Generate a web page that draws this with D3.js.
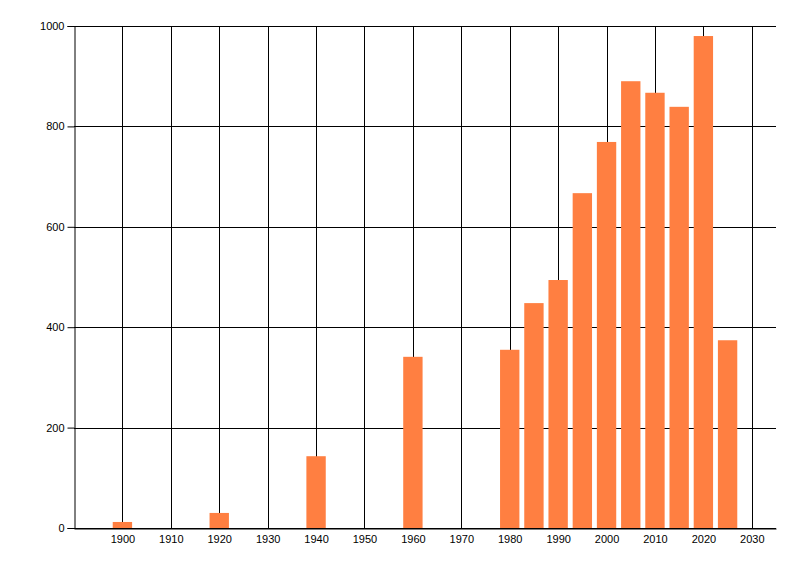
<!DOCTYPE html>
<html>
<head>
<meta charset="utf-8">
<script src="https://cdn.jsdelivr.net/npm/d3@7"></script>
<style>
  body { margin: 0; background: #fff; }
  text { font-family: "Liberation Sans", Arial, sans-serif; font-size: 11px; fill: #000; }
</style>
</head>
<body>
<div id="chart"></div>
<script>
var svgWidth = 800;
var svgHeight = 576;

var margin = { top: 26, right: 24, bottom: 48, left: 74 };

var chartWidth = svgWidth - margin.left - margin.right;
var chartHeight = svgHeight - margin.top - margin.bottom;

// data
var years = [1900, 1920, 1940, 1960, 1980, 1985, 1990, 1995, 2000, 2005, 2010, 2015, 2020, 2025];
var counts = [12, 30, 143, 341, 355, 448, 494, 667, 769, 890, 867, 839, 980, 374];
var xTicks = [1900, 1910, 1920, 1930, 1940, 1950, 1960, 1970, 1980, 1990, 2000, 2010, 2020, 2030];
var yTicks = [0, 200, 400, 600, 800, 1000];

var svg = d3.select("#chart")
  .append("svg")
  .attr("width", svgWidth)
  .attr("height", svgHeight);

var chartGroup = svg.append("g")
  .attr("transform", `translate(${margin.left}, ${margin.top})`);

var xScale = d3.scaleLinear()
  .domain([1890, 2035])
  .range([0, chartWidth]);

var yScale = d3.scaleLinear()
  .domain([0, 1000])
  .range([chartHeight, 0]);

// grid lines
chartGroup.append("g")
  .selectAll("line")
  .data(xTicks)
  .enter()
  .append("line")
  .attr("x1", d => Math.round(xScale(d)) + 0.5)
  .attr("x2", d => Math.round(xScale(d)) + 0.5)
  .attr("y1", 0)
  .attr("y2", chartHeight)
  .attr("stroke", "#000");

chartGroup.append("g")
  .selectAll("line")
  .data(yTicks)
  .enter()
  .append("line")
  .attr("x1", 0)
  .attr("x2", chartWidth)
  .attr("y1", d => Math.round(yScale(d)) + 0.5)
  .attr("y2", d => Math.round(yScale(d)) + 0.5)
  .attr("stroke", "#000");

// bars, 4 years wide centred on the year
chartGroup.selectAll("rect")
  .data(years)
  .enter()
  .append("rect")
  .attr("x", d => xScale(d - 2))
  .attr("width", d => xScale(d + 2) - xScale(d - 2))
  .attr("y", (d, i) => yScale(counts[i]))
  .attr("height", (d, i) => chartHeight - yScale(counts[i]))
  .attr("fill", "#ff7f41");

// axes
var yAxis = d3.axisLeft(yScale)
  .tickValues(yTicks)
  .tickSize(7)
  .tickPadding(3)
  .tickFormat(d3.format("d"));

var xAxis = d3.axisBottom(xScale)
  .tickValues(xTicks)
  .tickSize(0)
  .tickPadding(7)
  .tickFormat(d3.format("d"));

var yAxisG = chartGroup.append("g")
  .attr("transform", "translate(0.5, 0)")
  .call(yAxis);

var xAxisG = chartGroup.append("g")
  .attr("transform", `translate(0, ${chartHeight + 0.5})`)
  .call(xAxis);

yAxisG.selectAll("text").attr("font-size", null).attr("font-family", null);
xAxisG.selectAll("text").attr("font-size", null).attr("font-family", null);
yAxisG.select(".domain").attr("stroke", "#000");
xAxisG.select(".domain").attr("stroke", "#000");
yAxisG.selectAll(".tick line").attr("stroke", "#000");
</script>
</body>
</html>
